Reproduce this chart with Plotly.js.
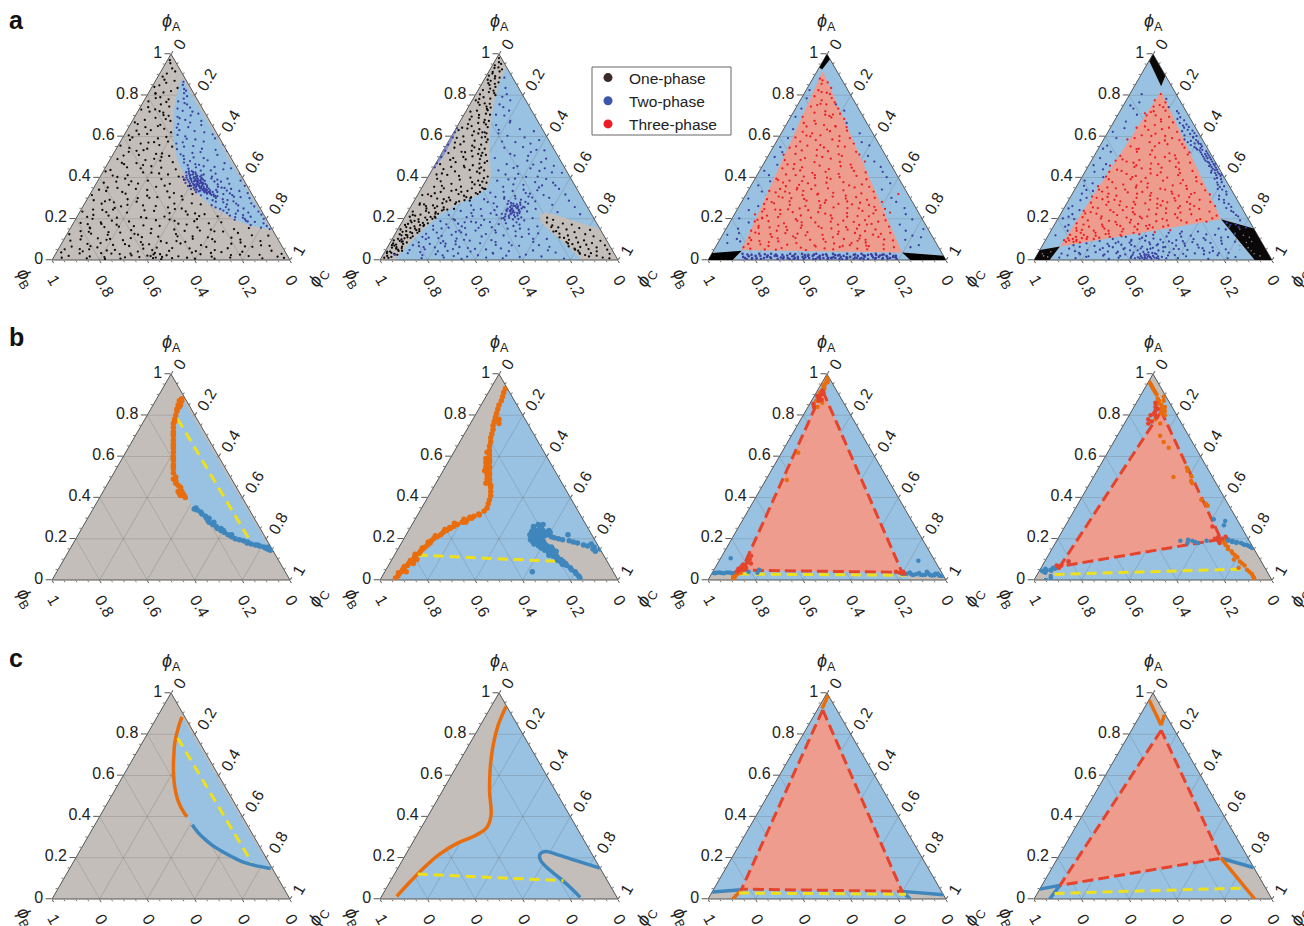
<!DOCTYPE html>
<html>
<head>
<meta charset="utf-8">
<script src="https://cdn.plot.ly/plotly-3.0.1.min.js"></script>
<style>body{margin:0;background:#fff}</style>
</head>
<body>
<div id="chart" style="width:1304px;height:926px"></div>
<script>
// Colours
const GRAY = '#C3BEBA', BLUE = '#99C2E2', SALMON = '#EE9C8E';
const ORANGE = '#E96D0C', LINEBLUE = '#3F86BD', REDDASH = '#E5432B', YELLOW = '#EFE01C';
const DOT_BLACK = '#0c0a0a', DOT_BLUE = '#3C3F9F', DOT_RED = '#EE1C25';

// Axis ticks
const tickVals = [0, 0.2, 0.4, 0.6, 0.8, 1];
const tickText = ['0', '0.2', '0.4', '0.6', '0.8', '1'];
const minorVals = [.05,.1,.15,.25,.3,.35,.45,.5,.55,.65,.7,.75,.85,.9,.95];

// Phase boundaries, all as [phiA, phiC] pairs
const orange1 = [[.884,.104],[.84,.113],[.795,.125],[.745,.142],[.698,.163],[.65,.185],[.602,.21],[.553,.238],[.505,.27],[.47,.297],[.44,.324],[.398,.368]];
const blue1 = [[.36,.409],[.322,.453],[.287,.502],[.258,.548],[.231,.60],[.204,.656],[.179,.714],[.163,.77],[.148,.845]];
const yellow1 = [[.782,.137],[.179,.749]];
const orange2 = [[.935,.062],[.844,.0745],[.747,.102],[.634,.146],[.521,.2],[.408,.2625],[.347,.2755],[.311,.2495],[.271,.19],[.2145,.139],[.142,.105],[.069,.08],[.013,.064]];
const blue2 = [[.15,.849],[.185,.735],[.218,.63],[.231,.58],[.218,.5635],[.19,.579],[.15,.629],[.10,.707],[.045,.7875],[.008,.8375]];
const yellow2 = [[.121,.0976],[.089,.7265]];
const tri3 = [[.918,.023],[.048,.117],[.037,.797]];
const orange3a = [[.989,.0105],[.925,.017]];
const orange3b = [[.045,.119],[0,.103]];
const blue3a = [[.034,0],[.045,.119]];
const blue3b = [[.037,.797],[.021,.979]];
const blue3c = [[.037,.797],[0,.85]];
const yellow3 = [[.029,.115],[.023,.821]];
const tri4 = [[.819,.125],[.066,.076],[.198,.687]];
const orange4a = [[.9645,.0023],[.8435,.1125]];
const orange4b = [[.895,.1],[.8435,.1125]];
const orange4c = [[.198,.687],[0,.9276]];
const blue4a = [[.048,0],[.066,.0756]];
const blue4b = [[.066,.0756],[0,.0655]];
const blue4c = [[.198,.687],[.153,.845]];
const yellow4 = [[.027,.0725],[.053,.8495]];

// Filled regions
const lens1 = orange1.concat(blue1);
const left2 = [[1,0]].concat(orange2, [[0,.07],[0,0]]);
const right2 = blue2.concat([[0,.845],[0,1]]);
const sliver2 = [[.66,0],[.58,.012],[.5,.014],[.43,0]];
const top3 = [[1,0],[.975,.025],[.925,.017],[.935,0]];
const left3 = [[0,0],[0,.103],[.045,.119],[.034,0]];
const right3 = [[0,.85],[0,1],[.021,.979],[.037,.797]];
const top4 = [[1,0],[.9645,.0023],[.8435,.1125],[.895,.105]];
const left4 = [[0,0],[0,.0655],[.066,.0756],[.048,0]];
const right4 = [[.198,.687],[.153,.847],[0,1],[0,.9276]];

// Row a: sampled compositions, flat lists of phiA, phiC
const a1One = [.97,.01,.93,.04,.955,.02,.89,.02,.915,.06,.87,.08,.905,.03,.84,.01,.86,.05,.82,.09,.875,.035,.79,.06,.81,.03,.835,.11,.77,.02,.745,.12,.78,.1,.72,.05,.755,.08,.70,.14,.73,.01,.69,.09,.715,.11,.66,.03,.675,.16,.645,.07,.68,.05,.62,.19,.65,.12,.605,.02,.63,.1,.59,.15,.61,.06,.575,.2,.565,.09,.595,.04,.55,.23,.54,.13,.57,.12,.525,.06,.515,.18,.555,.01,.505,.24,.53,.09,.49,.03,.485,.15,.51,.11,.475,.27,.465,.07,.5,.21,.455,.19,.44,.3,.47,.12,.43,.01,.45,.09,.42,.24,.445,.15,.41,.05,.405,.33,.425,.17,.395,.11,.415,.28,.385,.21,.375,.03,.39,.36,.365,.14,.38,.08,.355,.26,.37,.31,.345,.18,.36,.4,.335,.06,.35,.1,.325,.35,.34,.23,.315,.01,.33,.13,.305,.29,.32,.43,.295,.17,.31,.39,.285,.08,.3,.21,.275,.45,.29,.03,.265,.25,.28,.12,.255,.36,.27,.49,.245,.05,.26,.16,.238,.31,.25,.42,.23,.2,.243,.09,.222,.53,.235,.01,.215,.13,.228,.38,.208,.27,.22,.46,.2,.07,.212,.59,.193,.34,.205,.17,.187,.23,.198,.51,.18,.03,.19,.42,.175,.12,.183,.62,.168,.3,.178,.57,.162,.2,.172,.48,.157,.08,.165,.37,.15,.69,.16,.14,.145,.26,.155,.75,.14,.05,.148,.44,.135,.17,.143,.55,.13,.35,.138,.65,.125,.01,.133,.22,.12,.78,.128,.1,.115,.47,.123,.3,.11,.6,.118,.85,.105,.14,.113,.39,.1,.07,.108,.7,.096,.25,.103,.54,.092,.83,.098,.18,.087,.33,.094,.03,.083,.44,.089,.64,.078,.11,.085,.75,.073,.22,.08,.5,.069,.88,.076,.37,.065,.05,.072,.59,.061,.16,.068,.29,.057,.71,.064,.81,.053,.09,.06,.41,.049,.24,.056,.55,.045,.9,.052,.13,.041,.34,.048,.66,.037,.02,.044,.47,.033,.19,.04,.78,.029,.27,.036,.57,.025,.86,.032,.1,.021,.39,.028,.61,.017,.15,.024,.74,.013,.3,.02,.06,.009,.5,.016,.94,.005,.22,.012,.43,.023,.47,.015,.455,.028,.44,.009,.42,.019,.405,.034,.415,.006,.68,.014,.36,.008,.88,.011,.035,.03,.95,.01,.97];
const a1OneB = [.813,.062,.767,.097,.742,.033,.703,.117,.668,.014,.637,.153,.612,.094,.583,.036,.558,.172,.533,.118,.507,.047,.482,.214,.461,.152,.437,.027,.412,.112,.393,.263,.371,.176,.352,.058,.333,.318,.312,.244,.292,.096,.274,.377,.253,.137,.236,.444,.219,.064,.204,.294,.188,.504,.171,.186,.154,.083,.139,.613,.127,.283,.114,.534,.102,.193,.091,.412,.079,.714,.067,.128,.055,.356,.043,.583,.031,.234,.019,.817,.008,.142,.807,.031,.722,.091,.656,.127,.597,.182,.544,.053,.491,.184,.448,.235,.403,.073,.361,.293,.322,.148,.283,.214,.247,.393,.213,.512,.182,.114,.151,.342,.126,.458,.101,.623,.077,.268,.058,.476,.038,.693,.022,.323,.011,.562,.848,.027,.786,.043,.731,.068,.684,.136,.628,.041,.572,.143,.517,.204,.471,.058,.424,.206,.382,.142,.341,.027,.302,.258,.268,.183,.232,.112,.196,.396,.164,.262,.137,.086,.111,.322,.088,.516,.066,.778,.046,.207,.027,.413,.012,.743,.304,.342,.273,.072,.241,.268,.209,.043,.176,.443,.147,.594,.122,.173,.099,.742,.074,.344,.052,.027,.034,.651,.018,.522,.007,.284,.293,.402,.262,.305,.226,.488,.191,.156,.158,.532,.131,.716,.106,.278,.082,.163,.063,.617,.042,.108,.026,.777,.014,.213,.006,.598,.245,.134,.211,.367,.174,.063,.141,.487,.116,.066,.092,.477,.071,.843,.048,.397,.031,.314,.016,.663,.004,.457];
const a1Two = [.865,.12,.83,.14,.85,.125,.795,.17,.81,.15,.77,.145,.755,.19,.735,.16,.72,.23,.74,.21,.695,.18,.71,.26,.675,.29,.66,.2,.68,.22,.645,.25,.62,.33,.655,.3,.63,.22,.6,.26,.61,.37,.585,.31,.565,.24,.59,.39,.575,.35,.55,.28,.535,.42,.56,.44,.52,.33,.54,.36,.505,.3,.53,.47,.495,.39,.51,.44,.48,.34,.47,.49,.49,.31,.455,.41,.465,.37,.445,.53,.46,.34,.435,.45,.425,.39,.45,.38,.42,.58,.44,.5,.405,.47,.43,.36,.395,.54,.415,.43,.385,.6,.39,.5,.37,.56,.38,.52,.355,.52,.36,.63,.345,.58,.35,.55,.335,.62,.34,.52,.325,.66,.33,.53,.315,.6,.32,.56,.305,.64,.31,.54,.295,.57,.3,.68,.285,.62,.29,.53,.275,.7,.28,.58,.265,.65,.27,.6,.255,.56,.26,.72,.245,.62,.25,.68,.235,.75,.24,.6,.225,.66,.23,.71,.215,.64,.22,.77,.205,.7,.21,.73,.195,.67,.2,.79,.185,.76,.19,.72,.178,.8,.17,.75,.165,.82,.157,.8,.15,.84,.147,.86,
.42,.365,.415,.385,.408,.375,.402,.395,.397,.382,.392,.408,.388,.39,.383,.415,.379,.398,.375,.425,.37,.408,.366,.43,.361,.418,.357,.44,.352,.428,.347,.452,.342,.438,.338,.465,.333,.45,.328,.477,.41,.405,.405,.42,.398,.43,.39,.44,.384,.45,.376,.445,.369,.46,.362,.47,.354,.475,.346,.485,.338,.495,.33,.51,.322,.49,.318,.52,.41,.36,.4,.365,.39,.375,.38,.385,.37,.395,.36,.405,.35,.42,.34,.43,.395,.415,.385,.43,.375,.44,.365,.45,.355,.46,.345,.47,.335,.48,.325,.5];
const a1TwoB = [.822,.152,.783,.162,.762,.176,.724,.187,.702,.232,.688,.192,.667,.247,.643,.203,.626,.286,.607,.224,.588,.272,.571,.264,.553,.317,.538,.256,.524,.362,.513,.284,.498,.346,.484,.412,.473,.318,.462,.387,.452,.457,.443,.352,.434,.408,.426,.351,.419,.478,.411,.423,.404,.348,.396,.472,.389,.364,.381,.492,.374,.374,.367,.513,.359,.392,.351,.537,.344,.412,.337,.566,.329,.441,.323,.586,.314,.469,.307,.611,.299,.503,.291,.592,.283,.547,.274,.637,.266,.538,.257,.602,.248,.583,.239,.662,.229,.621,.218,.694,.208,.666,.198,.712,.187,.729,.431,.372,.417,.396,.403,.408,.394,.389,.386,.406,.379,.422,.372,.435,.364,.414,.358,.428,.349,.447,.342,.461,.334,.472,.327,.488,.321,.505,.413,.376,.399,.397,.387,.421,.378,.437,.368,.422,.359,.449,.348,.463,.339,.481,.331,.493,.316,.512,.309,.526,.426,.38,.405,.402,.392,.431,.381,.407,.371,.45,.362,.436,.353,.45,.343,.476,.336,.454,.329,.499,.311,.53,.301,.538];
const a2One = [.98,.01,.96,.02,.945,.01,.925,.05,.935,.03,.905,.02,.915,.045,.885,.06,.895,.01,.87,.03,.855,.055,.875,.015,.84,.065,.825,.02,.85,.035,.81,.075,.79,.04,.815,.05,.775,.015,.8,.085,.76,.06,.74,.095,.765,.03,.725,.045,.745,.075,.705,.11,.72,.02,.69,.07,.71,.09,.675,.12,.66,.04,.68,.1,.645,.13,.665,.08,.63,.015,.65,.06,.615,.14,.635,.1,.6,.05,.62,.12,.585,.16,.605,.085,.57,.03,.595,.13,.555,.11,.575,.065,.54,.17,.56,.145,.525,.08,.545,.04,.51,.19,.53,.12,.495,.06,.515,.155,.48,.21,.5,.1,.465,.02,.49,.175,.45,.13,.475,.08,.435,.22,.46,.16,.42,.05,.445,.195,.405,.25,.43,.1,.39,.14,.415,.03,.375,.26,.4,.18,.36,.08,.385,.22,.345,.27,.37,.115,.335,.2,.355,.05,.325,.24,.34,.15,.315,.02,.33,.09,.305,.21,.32,.17,.295,.12,.31,.06,.285,.19,.3,.23,.275,.03,.29,.15,.265,.09,.28,.18,.255,.14,.27,.05,.245,.16,.26,.11,.235,.02,.25,.07,.225,.12,.24,.14,.215,.04,.23,.09,.205,.13,.22,.06,.195,.1,.21,.02,.185,.07,.2,.12,.175,.03,.19,.05,.165,.1,.18,.09,.155,.05,.17,.02,.145,.08,.16,.03,.135,.06,.15,.09,.125,.02,.14,.04,.115,.08,.13,.07,.105,.05,.12,.03,.095,.01,.11,.06,.085,.07,.1,.04,.075,.03,.09,.05,.065,.06,.08,.015,.055,.04,.07,.025,.045,.07,.06,.02,.035,.03,.05,.05,.025,.06,.04,.01,.015,.04,.03,.045,.02,.02,.01,.03,.345,.265,.33,.255,.32,.25,.305,.23,.29,.21,.272,.18,.245,.145,.21,.125,.17,.1,.14,.095,.35,.255,.38,.24,.45,.2,.52,.17,.62,.13];
const a2OneB = [.952,.033,.913,.017,.881,.042,.862,.067,.832,.047,.804,.018,.783,.072,.753,.042,.733,.083,.696,.037,.668,.103,.642,.024,.624,.083,.598,.143,.579,.108,.561,.057,.538,.148,.519,.028,.503,.137,.486,.052,.468,.184,.452,.073,.437,.158,.421,.208,.408,.128,.394,.043,.378,.198,.363,.238,.348,.094,.331,.176,.319,.042,.303,.138,.288,.233,.276,.124,.262,.062,.248,.187,.232,.118,.219,.028,.206,.087,.191,.033,.178,.112,.163,.063,.148,.012,.132,.091,.119,.055,.103,.024,.088,.047,.072,.014,.058,.062,.041,.022,.027,.048,.011,.012,.348,.212,.336,.132,.324,.068,.312,.197,.298,.091,.284,.137,.268,.032,.252,.104,.238,.074,.224,.132,.209,.108,.197,.063,.183,.041,.169,.084,.152,.071,.137,.026,.122,.048,.107,.075,.093,.036,.078,.058,.062,.038,.044,.056,.033,.012,.356,.162,.367,.214,.382,.064,.397,.238,.413,.076,.429,.193,.441,.046,.457,.124,.472,.204,.488,.116,.506,.172,.523,.096,.547,.123,.572,.161,.593,.026,.614,.106,.638,.048,.658,.116,.682,.036,.704,.064,.727,.089,.758,.082,.782,.026,.822,.066,.858,.026,.892,.038,.932,.015];
const a2OneR = [.205,.6,.195,.63,.182,.61,.177,.68,.172,.72,.168,.64,.158,.67,.155,.76,.148,.71,.146,.81,.138,.66,.135,.75,.128,.69,.125,.8,.119,.73,.115,.84,.109,.77,.107,.72,.098,.745,.095,.81,.093,.88,.087,.74,.085,.79,.082,.85,.077,.77,.074,.83,.071,.91,.066,.76,.063,.81,.061,.88,.055,.79,.053,.85,.05,.93,.045,.81,.042,.89,.036,.82,.033,.87,.03,.95,.024,.85,.021,.9,.017,.87,.012,.93,.008,.96,.16,.64,.14,.67,.11,.7,.08,.75,.05,.795,.03,.825];
const a2Two = [.885,.08,.835,.11,.805,.13,.775,.16,.755,.125,.725,.18,.705,.135,.675,.21,.655,.16,.635,.27,.615,.19,.595,.31,.575,.225,.565,.35,.545,.25,.535,.39,.515,.29,.495,.235,.505,.37,.475,.44,.465,.3,.455,.35,.445,.47,.435,.28,.445,.41,.415,.32,.425,.51,.395,.37,.405,.46,.385,.3,.375,.54,.365,.42,.355,.34,.362,.5,.345,.58,.335,.39,.325,.45,.327,.3,.315,.53,.318,.62,.305,.37,.308,.47,.295,.29,.298,.42,.302,.56,.285,.51,.288,.65,.275,.34,.278,.45,.265,.25,.272,.4,.268,.59,.255,.48,.262,.43,.257,.69,.247,.3,.253,.45,.243,.41,.248,.53,.238,.22,.242,.36,.235,.47,.245,.43,.232,.63,.228,.27,.226,.44,.224,.4,.236,.5,.222,.73,.218,.18,.214,.32,.216,.47,.212,.42,.219,.38,.208,.26,.205,.44,.203,.54,.207,.49,.198,.21,.195,.34,.202,.41,.197,.46,.188,.16,.186,.29,.192,.51,.184,.37,.176,.24,.178,.44,.166,.14,.169,.34,.172,.5,.163,.58,.157,.21,.155,.28,.159,.39,.152,.46,.147,.15,.143,.33,.149,.55,.137,.25,.133,.42,.139,.5,.127,.13,.123,.3,.129,.6,.117,.2,.114,.37,.119,.46,.108,.15,.104,.27,.112,.54,.102,.65,.094,.33,.096,.42,.091,.22,.086,.12,.084,.5,.088,.6,.078,.17,.076,.28,.081,.38,.073,.45,.067,.13,.066,.24,.069,.55,.064,.68,.058,.34,.056,.48,.061,.2,.048,.1,.051,.42,.046,.62,.053,.28,.038,.15,.043,.52,.036,.72,.041,.36,.028,.22,.031,.46,.026,.6,.033,.1,.019,.3,.023,.4,.017,.67,.021,.52,.009,.17,.012,.44,.007,.77,.014,.58,.005,.34,.026,.05,.595,.008,.56,.006,.53,.009,.5,.007,.47,.004,.62,.005,.45,.005,.64,.003,.255,.445,.25,.43,.26,.45,.265,.42,.24,.44,.235,.43,.27,.44,.23,.45,.245,.46,.25,.47];
const a2TwoB = [.263,.436,.257,.418,.252,.451,.246,.428,.241,.463,.237,.414,.233,.441,.227,.472,.222,.437,.218,.454,.274,.423,.268,.456,.258,.472,.249,.412,.239,.426,.229,.462,.223,.416,.286,.397,.282,.47,.277,.412,.273,.486,.214,.434,.209,.463,.204,.418,.199,.482,.194,.427,.293,.446,.297,.373,.303,.488,.311,.412,.322,.469,.331,.354,.341,.433,.352,.492,.367,.377,.378,.463,.391,.344,.404,.412,.418,.372,.432,.454,.447,.338,.463,.412,.482,.378,.507,.312,.524,.372,.548,.327,.572,.283,.603,.234,.632,.183,.667,.212,.701,.172,.742,.147,.792,.118,.182,.312,.174,.412,.165,.478,.156,.336,.144,.412,.134,.274,.126,.382,.116,.512,.106,.192,.098,.304,.087,.442,.079,.236,.071,.518,.062,.152,.054,.372,.044,.262,.035,.456,.024,.166,.016,.358,.008,.512,.193,.218,.183,.264,.173,.192,.163,.262,.153,.182,.143,.262,.133,.172,.122,.24,.112,.122,.101,.142,.091,.272,.082,.214,.072,.102,.063,.302,.052,.162,.042,.222,.032,.312,.022,.252,.012,.262,.213,.282,.226,.352,.243,.272,.259,.362,.281,.312,.306,.332,.338,.492,.362,.556,.393,.502,.423,.553,.457,.502,.492,.452,.532,.425,.582,.378,.625,.334,.183,.482,.152,.512,.127,.562,.103,.592,.072,.632,.047,.682];
const a3Red = [.88,.03,.855,.05,.835,.1,.815,.07,.795,.05,.805,.11,.775,.09,.765,.15,.745,.06,.755,.12,.735,.18,.715,.09,.705,.14,.695,.05,.71,.2,.675,.11,.685,.23,.665,.07,.655,.16,.645,.26,.648,.09,.625,.2,.615,.13,.628,.27,.595,.07,.605,.17,.592,.3,.575,.1,.585,.23,.555,.14,.565,.33,.545,.07,.552,.27,.535,.19,.525,.36,.515,.11,.528,.24,.505,.31,.495,.16,.512,.38,.485,.08,.492,.27,.475,.21,.465,.13,.478,.42,.455,.33,.445,.09,.458,.24,.435,.17,.448,.38,.425,.45,.415,.12,.428,.28,.405,.2,.418,.34,.395,.09,.408,.42,.385,.15,.398,.25,.392,.47,.375,.31,.388,.1,.365,.2,.378,.38,.355,.5,.345,.13,.362,.27,.352,.44,.335,.09,.348,.33,.325,.18,.338,.4,.332,.53,.315,.24,.328,.12,.305,.47,.318,.3,.295,.1,.308,.37,.302,.55,.285,.2,.298,.43,.275,.14,.288,.27,.278,.5,.282,.59,.265,.34,.272,.1,.255,.4,.268,.21,.258,.57,.245,.16,.252,.46,.248,.62,.235,.11,.242,.3,.238,.53,.225,.38,.232,.24,.215,.14,.228,.47,.218,.63,.205,.33,.212,.57,.208,.19,.195,.11,.202,.42,.198,.27,.192,.65,.185,.52,.188,.16,.182,.36,.175,.6,.178,.23,.165,.13,.172,.46,.168,.31,.162,.68,.155,.4,.158,.18,.152,.55,.145,.26,.148,.63,.142,.11,.135,.35,.138,.48,.132,.7,.125,.2,.128,.15,.122,.42,.118,.58,.115,.3,.112,.66,.108,.12,.105,.24,.102,.52,.098,.38,.095,.73,.092,.17,.088,.45,.085,.62,.082,.33,.078,.13,.075,.7,.072,.56,.068,.22,.065,.42,.062,.75,.058,.28,.055,.15,.052,.5,.32,.64,.29,.35,.27,.47,.23,.65,.19,.28,.16,.5,.14,.59,.12,.35,.1,.69,.08,.49,.06,.36,.055,.6,.07,.63,.05,.26,.09,.25,.11,.47,.13,.26,.17,.55,.21,.48,.25,.26,.3,.2,.35,.2,.4,.3,.45,.17,.5,.23,.55,.3,.6,.13,.65,.21,.7,.16];
const a3RedB = [.862,.072,.824,.052,.786,.127,.752,.083,.722,.132,.692,.172,.661,.122,.633,.184,.604,.112,.578,.263,.558,.193,.532,.128,.513,.293,.486,.146,.463,.368,.442,.138,.423,.227,.402,.352,.383,.204,.367,.463,.344,.262,.323,.483,.303,.162,.286,.324,.267,.543,.246,.213,.226,.582,.206,.124,.186,.423,.166,.213,.147,.513,.127,.663,.107,.314,.087,.212,.067,.642,.048,.387,.622,.087,.582,.162,.546,.214,.511,.062,.476,.316,.441,.287,.412,.162,.376,.127,.342,.202,.312,.423,.281,.127,.253,.344,.223,.192,.194,.563,.163,.383,.133,.132,.104,.584,.074,.296,.053,.712,.872,.045,.812,.093,.758,.094,.706,.172,.648,.212,.601,.252,.552,.094,.507,.203,.464,.102,.432,.397,.394,.318,.358,.148,.326,.363,.296,.256,.272,.412,.242,.584,.216,.282,.187,.103,.156,.312,.126,.483,.096,.133,.071,.412,.051,.213,.336,.232,.308,.143,.278,.352,.247,.113,.216,.408,.186,.622,.156,.134,.128,.312,.098,.613,.068,.532,.052,.643,.362,.412,.322,.302,.284,.443,.251,.508,.221,.087,.191,.473,.161,.248,.131,.552,.101,.434,.076,.182,.056,.462,.412,.243,.372,.234,.332,.158,.292,.522,.262,.278,.232,.347,.202,.127,.172,.582,.142,.218,.112,.212,.082,.562,.062,.118,.243,.182,.213,.522,.183,.302,.153,.442,.123,.632,.093,.582,.063,.522];
const a3Blue = [.825,.014,.785,.022,.755,.16,.735,.025,.725,.21,.695,.02,.665,.25,.635,.04,.615,.33,.592,.04,.572,.36,.548,.03,.556,.4,.524,.05,.505,.42,.5,.03,.478,.46,.462,.06,.452,.5,.433,.02,.428,.52,.412,.05,.402,.55,.382,.07,.372,.58,.362,.03,.342,.56,.332,.06,.302,.62,.298,.02,.282,.65,.262,.08,.252,.7,.242,.05,.222,.72,.202,.03,.197,.76,.182,.08,.172,.72,.152,.05,.142,.76,.122,.02,.118,.8,.102,.07,.098,.78,.082,.04,.072,.85,.062,.82,.15,.83,.11,.84,.13,.065,.09,.09];
const a3Strip = [.03,.13,.015,.14,.005,.16,.025,.17,.01,.18,.03,.2,.02,.21,.005,.22,.015,.24,.03,.25,.01,.26,.02,.28,.005,.29,.025,.3,.015,.31,.03,.33,.005,.34,.02,.35,.01,.36,.03,.38,.015,.39,.005,.4,.025,.41,.01,.42,.02,.43,.03,.44,.005,.45,.015,.46,.025,.47,.01,.48,.02,.49,.005,.5,.03,.51,.015,.52,.01,.53,.025,.54,.005,.55,.02,.56,.03,.57,.01,.58,.015,.59,.025,.6,.005,.61,.02,.62,.03,.63,.01,.64,.015,.65,.025,.66,.005,.67,.02,.68,.03,.69,.01,.7,.015,.71,.025,.72,.005,.73,.02,.74,.03,.75,.01,.76,.015,.77,.02,.78,.005,.79,.01,.15,.02,.19,.01,.23,.02,.27,.01,.33,.015,.37,.02,.41,.005,.44,.02,.46,.01,.5,.015,.55,.005,.58,.01,.62,.02,.65,.005,.7,.01,.73,.02,.77,.008,.2,.022,.24,.012,.3,.018,.345,.006,.375,.024,.395,.012,.455,.008,.515,.022,.535,.014,.575,.006,.635,.024,.695,.016,.745,.027,.152,.018,.162,.004,.182,.028,.225,.013,.255,.026,.272,.007,.312,.022,.322,.004,.358,.029,.352,.013,.402,.026,.432,.006,.468,.028,.482,.011,.512,.024,.522,.003,.562,.027,.605,.012,.612,.023,.642,.004,.652,.028,.672,.012,.688,.022,.712,.006,.752,.027,.725,.013,.782];
const a4Red = [.805,.13,.775,.12,.765,.17,.745,.13,.725,.19,.712,.11,.702,.16,.695,.22,.675,.13,.668,.25,.655,.18,.642,.11,.635,.22,.622,.29,.605,.15,.602,.25,.585,.1,.582,.32,.572,.2,.562,.28,.552,.13,.545,.36,.532,.23,.525,.17,.518,.31,.512,.39,.505,.11,.498,.26,.492,.35,.485,.2,.478,.15,.472,.42,.465,.29,.458,.09,.452,.37,.445,.23,.438,.13,.432,.45,.425,.32,.418,.18,.412,.4,.405,.1,.398,.27,.402,.48,.392,.21,.385,.35,.378,.14,.372,.43,.368,.52,.362,.25,.358,.09,.352,.3,.348,.17,.345,.47,.342,.38,.338,.55,.332,.12,.328,.23,.325,.33,.322,.42,.318,.58,.312,.19,.308,.09,.305,.5,.302,.28,.298,.37,.295,.14,.292,.55,.288,.45,.285,.22,.282,.6,.278,.1,.275,.33,.272,.52,.268,.17,.265,.4,.262,.63,.258,.26,.255,.12,.252,.48,.248,.57,.245,.36,.242,.2,.238,.09,.235,.62,.232,.3,.228,.44,.225,.15,.222,.55,.218,.24,.215,.66,.212,.37,.208,.1,.205,.5,.202,.18,.198,.6,.195,.31,.192,.13,.188,.42,.185,.25,.182,.55,.178,.09,.175,.35,.172,.2,.168,.48,.165,.28,.162,.15,.158,.42,.155,.1,.152,.22,.148,.36,.145,.5,.142,.18,.138,.3,.135,.44,.132,.13,.128,.25,.125,.38,.122,.09,.118,.2,.115,.31,.112,.12,.108,.22,.105,.09,.102,.17,.098,.13,.095,.1,.088,.09,.085,.15,.48,.33,.44,.39,.4,.36,.36,.46,.33,.29,.3,.44,.27,.29,.25,.43,.23,.5,.21,.34,.19,.22,.17,.4,.15,.3,.2,.44,.28,.42,.32,.5,.38,.26,.42,.28,.46,.2,.5,.3,.54,.17,.58,.26];
const a4RedB = [.752,.152,.718,.132,.683,.192,.648,.142,.613,.204,.592,.127,.568,.242,.538,.162,.508,.338,.488,.128,.468,.258,.448,.312,.428,.102,.408,.224,.388,.432,.366,.192,.346,.358,.326,.512,.306,.156,.286,.398,.266,.226,.246,.532,.226,.102,.206,.286,.186,.632,.166,.388,.146,.128,.126,.238,.106,.148,.096,.078,.088,.122,.722,.142,.672,.198,.632,.164,.592,.284,.552,.232,.522,.392,.482,.102,.452,.196,.422,.402,.392,.118,.362,.402,.342,.212,.312,.452,.282,.172,.252,.288,.222,.402,.192,.522,.162,.342,.132,.192,.112,.262,.092,.132,.742,.172,.702,.122,.642,.246,.602,.192,.562,.342,.512,.232,.472,.182,.442,.268,.412,.312,.382,.492,.352,.132,.322,.272,.292,.342,.262,.542,.232,.218,.202,.352,.172,.122,.142,.242,.122,.302,.102,.112,.472,.372,.432,.152,.402,.212,.372,.292,.342,.102,.312,.332,.282,.502,.252,.142,.222,.482,.192,.588,.162,.462,.132,.352,.112,.168,.352,.252,.302,.112,.272,.382,.242,.252,.212,.178,.182,.312,.152,.402,.122,.148,.102,.2,.332,.412,.292,.192,.262,.482,.232,.122,.202,.648,.172,.262,.142,.108,.322,.152,.282,.278,.252,.392,.222,.312,.192,.462,.162,.208];
const a4Blue = [.805,.05,.765,.06,.735,.05,.722,.24,.705,.08,.685,.26,.672,.05,.665,.28,.652,.3,.642,.31,.632,.33,.622,.02,.625,.31,.612,.35,.605,.33,.598,.37,.592,.05,.585,.34,.578,.37,.582,.39,.572,.36,.565,.41,.558,.38,.562,.42,.555,.03,.548,.4,.552,.43,.542,.41,.535,.44,.532,.43,.528,.46,.525,.06,.522,.44,.518,.47,.512,.45,.508,.48,.502,.46,.498,.49,.495,.03,.492,.47,.488,.5,.482,.48,.478,.51,.472,.5,.468,.53,.465,.07,.462,.51,.458,.53,.452,.52,.448,.54,.442,.53,.438,.55,.432,.53,.428,.04,.425,.56,.422,.55,.418,.57,.412,.56,.408,.58,.402,.09,.398,.57,.392,.59,.385,.02,.378,.6,.372,.06,.365,.59,.358,.62,.345,.6,.335,.08,.342,.62,.322,.04,.318,.65,.302,.07,.295,.63,.278,.66,.262,.03,.258,.7,.242,.07,.238,.71,.222,.05,.218,.74,.202,.02,.198,.07,.192,.77,.162,.05,.152,.7,.142,.07,.138,.62,.132,.5,.128,.55,.122,.44,.118,.6,.122,.7,.112,.33,.108,.4,.114,.5,.106,.66,.111,.76,.102,.28,.098,.36,.104,.45,.096,.55,.101,.62,.092,.23,.088,.31,.094,.42,.086,.5,.091,.58,.083,.7,.089,.8,.081,.18,.078,.27,.084,.36,.076,.45,.082,.54,.074,.65,.079,.75,.072,.13,.068,.22,.074,.33,.066,.39,.071,.48,.063,.52,.069,.6,.061,.72,.064,.16,.058,.26,.062,.3,.056,.42,.059,.47,.054,.56,.057,.68,.052,.78,.055,.12,.048,.2,.053,.35,.047,.38,.051,.45,.046,.5,.049,.62,.044,.73,.043,.15,.038,.24,.041,.29,.036,.4,.039,.44,.034,.48,.037,.55,.032,.66,.035,.8,.031,.1,.028,.18,.033,.33,.027,.37,.03,.43,.026,.46,.029,.5,.024,.58,.028,.7,.023,.76,.022,.13,.018,.22,.021,.28,.017,.4,.019,.44,.016,.47,.02,.49,.015,.53,.018,.63,.014,.84,.012,.1,.009,.17,.011,.35,.008,.42,.01,.45,.007,.47,.012,.5,.006,.52,.009,.6,.005,.73,.008,.81,.012,.46,.015,.48,.008,.44,.018,.44,.006,.49,.02,.455,.024,.47,.013,.43,.01,.51,.028,.45];
const a4BlueB = [.782,.165,.742,.195,.712,.252,.693,.268,.678,.292,.658,.312,.646,.328,.628,.352,.616,.366,.602,.382,.594,.372,.574,.402,.566,.392,.544,.428,.536,.418,.514,.462,.504,.472,.494,.482,.476,.492,.466,.522,.456,.508,.436,.542,.424,.532,.414,.582,.394,.562,.376,.582,.354,.604,.332,.642,.312,.622,.292,.652,.272,.682,.252,.682,.232,.722,.212,.752,.172,.762,.158,.812,.148,.732,.138,.552,.124,.662,.117,.412,.113,.562,.109,.732,.103,.392,.099,.482,.097,.672,.093,.362,.09,.522,.087,.622,.085,.442,.082,.302,.08,.592,.077,.482,.073,.372,.07,.562,.067,.282,.065,.422,.062,.512,.06,.662,.058,.352,.055,.462,.053,.582,.05,.252,.047,.412,.045,.692,.042,.522,.04,.332,.037,.462,.035,.172,.032,.492,.03,.612,.027,.282,.025,.402,.022,.552,.02,.352,.018,.512,.015,.212,.013,.482,.01,.402,.008,.552,.005,.312,.003,.462,.46,.02,.36,.03,.29,.05,.21,.04,.75,.03,.64,.06,.54,.02,.44,.07,.34,.05,.25,.02,.17,.06,.12,.03,.18,.72,.17,.74,.16,.78,.126,.78,.094,.74,.036,.72,.033,.76];
const a4Specks = [.15,.79,.13,.78,.12,.82,.1,.8,.085,.85,.07,.83,.06,.87,.045,.89,.03,.91,.11,.85,.09,.87,.05,.84,.02,.94,.16,.74,.03,.02,.02,.03,.04,.05,.015,.05];

// Row b: measured tie points
const b1Orange = [.88,.105,.87,.1,.86,.11,.85,.105,.84,.115,.83,.11,.82,.115,.8,.12,.78,.125,.76,.13,.74,.14,.72,.15,.7,.16,.68,.17,.66,.18,.64,.19,.62,.2,.6,.21,.58,.22,.56,.23,.54,.24,.52,.25,.5,.27,.49,.265,.48,.28,.47,.285,.46,.3,.45,.315,.44,.32,.43,.33,.43,.315,.42,.34,.41,.35,.41,.335,.4,.36,.42,.325,.87,.11,.85,.115,.77,.13,.71,.155,.65,.185,.59,.215,.55,.235];
const b1Blue = [.35,.43,.345,.425,.34,.44,.33,.46,.32,.47,.31,.49,.30,.5,.29,.51,.28,.52,.27,.54,.26,.56,.25,.57,.24,.59,.23,.61,.22,.63,.21,.65,.2,.67,.195,.69,.19,.71,.18,.73,.175,.75,.17,.77,.165,.79,.16,.81,.155,.82,.15,.83,.145,.845,.16,.83,.28,.54,.25,.585,.22,.645,.155,.84,.15,.845,.17,.78,.185,.73,.24,.6,.3,.51];
const b2Orange = [.93,.062,.91,.065,.89,.07,.87,.075,.85,.075,.83,.08,.81,.085,.79,.09,.77,.095,.75,.1,.78,.11,.76,.12,.73,.11,.71,.115,.69,.12,.67,.13,.65,.135,.63,.145,.61,.155,.59,.165,.59,.15,.57,.175,.57,.16,.55,.185,.55,.17,.53,.19,.53,.175,.51,.205,.51,.195,.49,.215,.49,.205,.47,.225,.47,.21,.45,.24,.43,.25,.41,.26,.39,.265,.37,.27,.35,.275,.335,.27,.32,.255,.31,.24,.315,.26,.3,.235,.29,.22,.28,.205,.27,.19,.26,.18,.25,.17,.255,.165,.24,.16,.23,.15,.22,.145,.21,.135,.2,.125,.19,.12,.18,.12,.17,.115,.16,.11,.15,.105,.14,.1,.13,.1,.12,.09,.11,.09,.1,.09,.09,.085,.08,.08,.07,.08,.06,.07,.05,.07,.04,.07,.03,.065,.02,.065,.01,.06,.1,.105,.08,.1,.04,.09,.28,.22,.305,.225,.295,.205,.275,.175,.245,.15,.215,.125,.185,.11,.155,.1,.125,.085,.095,.08,.065,.07,.035,.06,.62,.14,.58,.17,.54,.19,.52,.2,.48,.22,.46,.235];
const b2Blue = [.15,.85,.16,.82,.165,.79,.17,.77,.175,.8,.18,.74,.185,.72,.19,.7,.195,.67,.2,.65,.205,.63,.21,.615,.22,.6,.23,.585,.24,.565,.255,.55,.27,.53,.24,.53,.25,.52,.23,.54,.22,.55,.21,.54,.2,.55,.19,.56,.18,.57,.17,.58,.16,.6,.15,.62,.14,.64,.13,.66,.12,.68,.11,.69,.1,.71,.09,.725,.08,.74,.07,.75,.06,.77,.05,.78,.04,.8,.03,.81,.02,.825,.01,.835,.22,.52,.2,.58,.18,.6,.16,.64,.21,.57,.19,.59,.17,.61,.15,.65,.14,.67,.04,.62,.12,.65,.24,.59,.23,.6,.25,.55,.22,.68,.15,.82,.14,.835,.235,.52,.225,.535,.215,.525,.205,.545,.195,.535,.185,.55,.175,.56,.165,.585,.155,.6,.145,.62,.135,.64,.125,.66,.115,.67,.105,.69,.095,.7,.085,.72,.075,.73,.245,.545,.235,.56,.225,.57,.215,.585,.205,.56,.195,.575,.185,.585,.175,.595,.26,.515,.27,.55,.165,.62,.155,.635];
const b3Orange = [.985,.012,.97,.014,.955,.016,.94,.018,.925,.02,.91,.015,.89,.015,.87,.02,.86,.05,.84,.04,.85,.02,.618,.07,.485,.0887,.03,.11,.02,.105,.01,.105,.002,.103,.975,.018,.96,.022,.945,.012,.93,.024,.035,.12,.015,.098];
const b3Red = [.92,.02,.9,.025,.88,.025,.87,.03,.085,.1215,.118,.122,.07,.12,.06,.115,.05,.11,.045,.105,.04,.1,.1,.125,.06,.13,.08,.14,.035,.79,.04,.8,.03,.81,.04,.77,.91,.03,.895,.012,.875,.04,.855,.015,.84,.025,.075,.11,.055,.1,.05,.125,.065,.108];
const b3Blue = [.035,.005,.035,.02,.034,.04,.036,.06,.034,.08,.036,.1,.106,.042,.04,.15,.05,.19,.035,.19,.03,.8,.03,.82,.028,.84,.028,.86,.026,.88,.026,.9,.025,.92,.023,.94,.022,.96,.021,.975,.04,.9,.03,.95,.094,.837,.033,.012,.037,.03,.033,.05,.037,.07,.033,.09,.036,.83,.024,.85,.034,.87,.024,.89,.032,.91,.022,.93,.03,.94,.02,.97];
const b4Orange = [.96,.005,.94,.025,.92,.045,.9,.065,.88,.08,.86,.095,.89,.1,.87,.11,.85,.11,.83,.12,.82,.14,.8,.15,.78,.12,.76,.15,.7,.18,.67,.21,.642,.245,.545,.37,.53,.38,.505,.408,.5,.336,.48,.42,.47,.43,.39,.508,.37,.537,.36,.55,.19,.7,.18,.71,.17,.72,.16,.735,.15,.74,.14,.76,.13,.77,.12,.785,.11,.8,.1,.79,.09,.82,.08,.835,.07,.85,.06,.83,.05,.87,.04,.885,.03,.9,.02,.91,.01,.92,0,.925,.95,.015,.93,.035,.91,.055,.87,.09,.85,.09,.84,.13,.81,.13];
const b4Red = [.86,.08,.84,.09,.82,.1,.8,.11,.78,.09,.76,.1,.8,.09,.21,.67,.2,.69,.19,.68,.2,.66,.18,.69,.21,.7,.26,.62,.07,.08,.06,.075,.065,.07,.07,.06,.09,.1,.83,.105,.81,.1,.79,.12,.77,.11];
const b4Blue = [.045,.01,.047,.03,.05,.045,.055,.06,.06,.07,.04,.02,.02,.06,.01,.065,0,.05,.09,.1,.295,.608,.287,.66,.266,.665,.19,.52,.195,.55,.19,.57,.18,.6,.19,.63,.2,.67,.19,.74,.185,.76,.18,.78,.17,.8,.165,.82,.16,.83,.155,.84,.2,.71,.195,.72,.185,.74,.175,.79,.17,.81,.18,.76,.19,.72,.055,.02,.06,.05,.045,.05,.035,.03,.18,.555,.185,.585];

const pairs = flat => flat.reduce((out, v, i) => { if (i % 2 === 0) out.push([v, flat[i + 1]]); return out; }, []);

// Page geometry of the panels
const colLeft = [52, 380, 708, 1034];
const rowBase = [260, 580, 899];
const TRI_W = 238, TRI_H = 206, PW = 1304, PH = 926;
const FONT = '"Liberation Sans", Arial, sans-serif';

const traces = [];
const layout = {
  width: PW, height: PH,
  margin: {l: 0, r: 0, t: 0, b: 0},
  paper_bgcolor: 'white',
  font: {family: FONT, color: '#222'},
  annotations: [],
  // legend frame
  shapes: [{type: 'rect', xref: 'paper', yref: 'paper', x0: 592 / PW, x1: 731 / PW, y0: 1 - 135 / PH, y1: 1 - 67 / PH,
    line: {color: '#666', width: 1}, fillcolor: 'white', layer: 'below'}],
  showlegend: true,
  legend: {
    x: 587 / PW, y: 1 - 61 / PH, xanchor: 'left', yanchor: 'top',
    bgcolor: 'rgba(0,0,0,0)', borderwidth: 0,
    font: {size: 15.5, color: '#222'}, itemwidth: 32, tracegroupgap: 0
  }
};

function axisStyle(vals, text, base, angle, len) {
  return base ? {
    min: 0, title: {text: ''}, tickmode: 'array', tickvals: vals, ticktext: text, tickangle: angle,
    ticks: 'outside', ticklen: len, tickwidth: 1, tickcolor: '#555',
    tickfont: {size: 16, color: '#222', family: FONT},
    showline: true, linecolor: '#555', linewidth: 1,
    showgrid: true, gridcolor: 'rgba(90,90,90,0.22)', gridwidth: 1, layer: 'above traces'
  } : {
    min: 0, title: {text: ''}, tickmode: 'array', tickvals: vals, ticks: 'outside', ticklen: 2,
    tickwidth: 1, tickcolor: '#777', showticklabels: false,
    showline: false, showgrid: false
  };
}

// Every panel is a base ternary (fills, grid, labels) plus an overlay (marks, minor ticks)
function addTernaries(row, col, bg) {
  const idx = row * 4 + col;
  const baseName = 'ternary' + (idx * 2 + 1 === 1 ? '' : idx * 2 + 1);
  const overName = 'ternary' + (idx * 2 + 2);
  const domain = {
    x: [colLeft[col] / PW, (colLeft[col] + TRI_W) / PW],
    y: [1 - rowBase[row] / PH, 1 - (rowBase[row] - TRI_H) / PH]
  };
  layout[baseName] = {
    domain, sum: 1, bgcolor: bg,
    aaxis: axisStyle(tickVals, tickText, true, 0, 6),
    baxis: axisStyle(tickVals, tickText, true, 60, 3),
    caxis: axisStyle(tickVals, tickText, true, -60, 3)
  };
  layout[overName] = {
    domain, sum: 1, bgcolor: 'rgba(0,0,0,0)',
    aaxis: axisStyle(minorVals, null, false),
    baxis: axisStyle(minorVals, null, false),
    caxis: axisStyle(minorVals, null, false)
  };
  const left = colLeft[col], base = rowBase[row];
  const titleFont = {size: 18, color: '#222', family: FONT};
  const label = (text, x, y, angle) => layout.annotations.push({
    text, x: x / PW, y: 1 - y / PH, xref: 'paper', yref: 'paper', showarrow: false,
    textangle: angle, font: titleFont, xanchor: 'center', yanchor: 'middle'
  });
  label('<i>ϕ</i><sub>A</sub>', left + TRI_W / 2, base - TRI_H - 31, 0);
  label('<i>ϕ</i><sub>B</sub>', left - 27, base + 18, 60);
  label('<i>ϕ</i><sub>C</sub>', left + TRI_W + 28, base + 18, -60);
  return {base: baseName, over: overName};
}

function fill(sub, poly, color) {
  traces.push({
    type: 'scatterternary', subplot: sub, mode: 'lines', fill: 'toself', fillcolor: color,
    a: poly.map(p => p[0]), c: poly.map(p => p[1]),
    line: {width: 0, color: color}, hoverinfo: 'skip', showlegend: false
  });
}

function line(sub, pts, color, width, dash, spline) {
  traces.push({
    type: 'scatterternary', subplot: sub, mode: 'lines',
    a: pts.map(p => p[0]), c: pts.map(p => p[1]),
    line: {color, width, dash: dash || 'solid', shape: spline ? 'spline' : 'linear'},
    hoverinfo: 'skip', showlegend: false
  });
}

function dots(sub, flat, color, size) {
  const pts = pairs(flat);
  traces.push({
    type: 'scatterternary', subplot: sub, mode: 'markers',
    a: pts.map(p => p[0]), c: pts.map(p => p[1]),
    marker: {color, size, line: {width: 0}}, hoverinfo: 'skip', showlegend: false
  });
}

const RED_DASH = '11px,5px', YELLOW_DASH = '10px,6px';

// Fills shared by all rows of a column
const columnFills = [
  s => fill(s, lens1, BLUE),
  s => { fill(s, left2, GRAY); fill(s, right2, GRAY); },
  s => { fill(s, top3, GRAY); fill(s, left3, GRAY); fill(s, right3, GRAY); fill(s, tri3, SALMON); },
  s => { fill(s, top4, GRAY); fill(s, left4, GRAY); fill(s, right4, GRAY); fill(s, tri4, SALMON); }
];
const columnBg = [GRAY, BLUE, BLUE, BLUE];

// Dashed tie lines, used in rows b and c
const columnDashes = [
  s => line(s, yellow1, YELLOW, 3, YELLOW_DASH),
  s => line(s, yellow2, YELLOW, 3, YELLOW_DASH),
  s => {
    line(s, tri3.concat([tri3[0]]), REDDASH, 3, RED_DASH);
    line(s, yellow3, YELLOW, 3, YELLOW_DASH);
  },
  s => {
    line(s, tri4.concat([tri4[0]]), REDDASH, 3, RED_DASH);
    line(s, yellow4, YELLOW, 3, YELLOW_DASH);
  }
];

// Row c curves
const columnCurves = [
  s => { line(s, orange1, ORANGE, 3.5, null, true); line(s, blue1, LINEBLUE, 3.5, null, true); },
  s => { line(s, orange2, ORANGE, 3.5, null, true); line(s, blue2, LINEBLUE, 3.5, null, true); },
  s => {
    [blue3a, blue3b, blue3c].forEach(p => line(s, p, LINEBLUE, 3.5));
    [orange3a, orange3b].forEach(p => line(s, p, ORANGE, 3.5));
  },
  s => {
    [blue4a, blue4b, blue4c].forEach(p => line(s, p, LINEBLUE, 3.5));
    [orange4a, orange4b, orange4c].forEach(p => line(s, p, ORANGE, 3.5));
  }
];

// Row a scatter
const rowADots = [
  s => { dots(s, a1One, DOT_BLACK, 2.3); dots(s, a1OneB, DOT_BLACK, 2.3); dots(s, a1Two, DOT_BLUE, 2.3); dots(s, a1TwoB, DOT_BLUE, 2.3); },
  s => {
    fill(s, sliver2, '#7F8FCF');
    dots(s, a2One, DOT_BLACK, 2.3); dots(s, a2OneB, DOT_BLACK, 2.3); dots(s, a2OneR, DOT_BLACK, 2.3);
    dots(s, a2Two, DOT_BLUE, 2.3); dots(s, a2TwoB, DOT_BLUE, 2.3);
  },
  s => {
    fill(s, top3, '#000'); fill(s, left3, '#000'); fill(s, right3, '#000');
    dots(s, a3Blue, DOT_BLUE, 2.3); dots(s, a3Strip, DOT_BLUE, 2.6);
    dots(s, a3Red, DOT_RED, 2.3); dots(s, a3RedB, DOT_RED, 2.3);
  },
  s => {
    fill(s, top4, '#0a0808'); fill(s, left4, '#0a0808'); fill(s, right4, '#0a0808');
    dots(s, a4Specks, '#8f8a86', 1.6);
    dots(s, a4Blue, DOT_BLUE, 2.3); dots(s, a4BlueB, DOT_BLUE, 2.3);
    dots(s, a4Red, DOT_RED, 2.3); dots(s, a4RedB, DOT_RED, 2.3);
  }
];

// Row b scatter
const rowBDots = [
  s => { dots(s, b1Orange, ORANGE, 5.5); dots(s, b1Blue, LINEBLUE, 5.5); },
  s => { dots(s, b2Orange, ORANGE, 5.5); dots(s, b2Blue, LINEBLUE, 5.5); },
  s => { dots(s, b3Blue, LINEBLUE, 4.5); dots(s, b3Orange, ORANGE, 4.5); dots(s, b3Red, REDDASH, 4.5); },
  s => { dots(s, b4Blue, LINEBLUE, 4.5); dots(s, b4Orange, ORANGE, 4.5); dots(s, b4Red, REDDASH, 4.5); }
];

for (let col = 0; col < 4; col++) {
  // row a
  let sub = addTernaries(0, col, columnBg[col]);
  columnFills[col](sub.base);
  rowADots[col](sub.over);
  // row b
  sub = addTernaries(1, col, columnBg[col]);
  columnFills[col](sub.base);
  columnDashes[col](sub.over);
  rowBDots[col](sub.over);
  // row c
  sub = addTernaries(2, col, columnBg[col]);
  columnFills[col](sub.base);
  columnCurves[col](sub.over);
  columnDashes[col](sub.over);
}

// Legend entries
[['One-phase', '#3A2B28'], ['Two-phase', '#3F56A8'], ['Three-phase', '#ED1C24']].forEach(([name, color]) => {
  traces.push({
    type: 'scatterternary', subplot: 'ternary', mode: 'markers', name,
    a: [null], c: [null], marker: {color, size: 9}, showlegend: true, hoverinfo: 'skip'
  });
});

// Panel letters
[['a', 20], ['b', 337], ['c', 658]].forEach(([t, y]) => {
  layout.annotations.push({
    text: '<b>' + t + '</b>', x: 7 / PW, y: 1 - y / PH, xref: 'paper', yref: 'paper',
    xanchor: 'left', yanchor: 'middle',
    showarrow: false, font: {size: 25, color: '#111', family: FONT}
  });
});

Plotly.newPlot('chart', traces, layout, {displayModeBar: false, staticPlot: true});
</script>
</body>
</html>
